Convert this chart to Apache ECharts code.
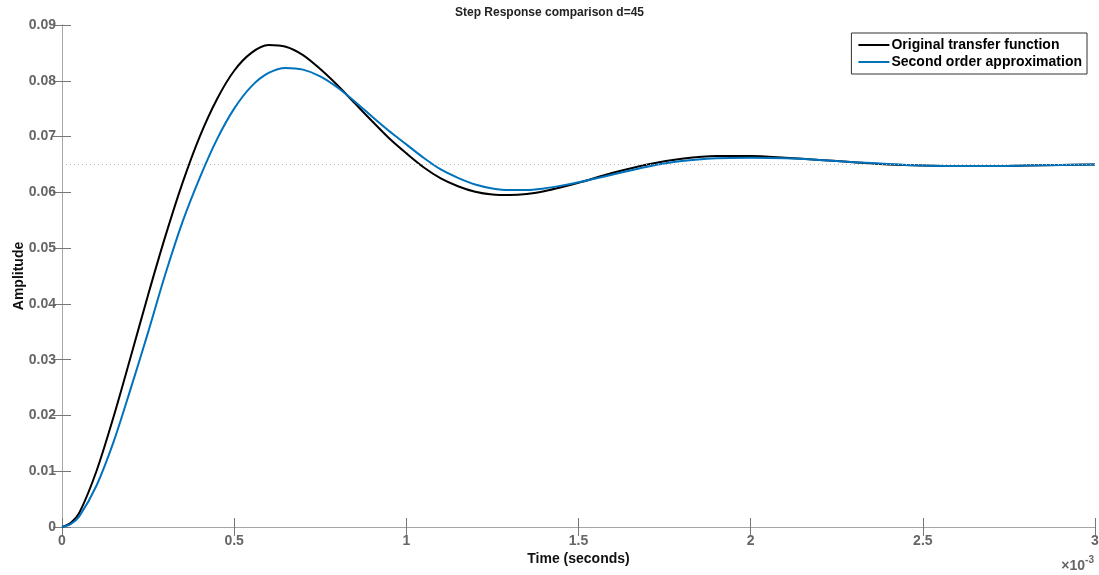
<!DOCTYPE html>
<html>
<head>
<meta charset="utf-8">
<script src="https://cdn.jsdelivr.net/npm/echarts@6/dist/echarts.min.js"></script>
<style>
  html, body { margin: 0; padding: 0; background: #fff; }
  #chart { width: 1099px; height: 575px; }
</style>
</head>
<body>
<div id="chart"></div>
<script>
  // time in ms (axis shows x10^-3 seconds)
  var time = [0, 0.025, 0.05, 0.1, 0.15, 0.2, 0.25, 0.3, 0.35, 0.4, 0.45, 0.5, 0.55, 0.6, 0.65, 0.7, 0.75,
    0.8, 0.85, 0.9, 0.95, 1.0, 1.05, 1.1, 1.15, 1.2, 1.25, 1.3, 1.35, 1.4, 1.45, 1.5,
    1.6, 1.7, 1.8, 1.9, 2.0, 2.1, 2.2, 2.3, 2.4, 2.5, 2.6, 2.7, 2.8, 2.9, 3.0]
  var original = [0, 0.0007, 0.0025, 0.0100, 0.0198, 0.0306, 0.0416, 0.0521, 0.0617, 0.0700, 0.0767, 0.0818, 0.0850, 0.0864, 0.0861, 0.0846, 0.0821,
    0.0792, 0.0760, 0.0728, 0.0697, 0.0670, 0.0645, 0.0625, 0.0611, 0.0601, 0.0596, 0.0595, 0.0597, 0.0602, 0.0609, 0.0617,
    0.0635, 0.0650, 0.0660, 0.0665, 0.0665, 0.0662, 0.0658, 0.0654, 0.0650, 0.0648, 0.0647, 0.0647, 0.0648, 0.0649, 0.0650]
  var approx = [0, 0.0005, 0.0019, 0.0074, 0.0153, 0.0249, 0.0349, 0.0453, 0.0547, 0.0626, 0.0695, 0.0750, 0.0790, 0.0814, 0.0823, 0.0820, 0.0808,
    0.0788, 0.0763, 0.0736, 0.0710, 0.0686, 0.0662, 0.0641, 0.0626, 0.0614, 0.0607, 0.0604, 0.0604, 0.0607, 0.0612, 0.0618,
    0.0632, 0.0646, 0.0656, 0.0661, 0.0662, 0.0661, 0.0658, 0.0654, 0.0651, 0.0648, 0.0647, 0.0647, 0.0648, 0.0649, 0.0650]
  var steadyState = 0.065

  function pairs(vals) {
    return time.map(function (t, i) { return [t, vals[i]] })
  }

  var gridColor = '#a6a6a6'
  var labelColor = '#666'
  var font = 'Liberation Sans, Arial, sans-serif'

  var myChart = echarts.init(document.getElementById('chart'))
  var option = {
    animation: false,
    title: {
      text: 'Step Response comparison d=45',
      left: 'center',
      top: 2,
      textStyle: { color: '#222', fontSize: 12, fontWeight: 'bold', fontFamily: font }
    },
    legend: {
      orient: 'vertical',
      right: 12,
      top: 33,
      padding: [5, 5, 5, 7],
      itemGap: 3,
      itemWidth: 31,
      itemHeight: 2,
      icon: 'rect',
      borderColor: '#333',
      borderWidth: 1,
      backgroundColor: '#fff',
      textStyle: { color: '#000', fontSize: 14, fontWeight: 'bold', fontFamily: font, padding: [0, 0, 0, -3] },
      data: ['Original transfer function', 'Second order approximation']
    },
    grid: { left: 62, right: 4, top: 25, bottom: 48, outerBoundsMode: 'none' },
    xAxis: [{
      type: 'value',
      min: 0, max: 3, interval: 0.5,
      name: 'Time (seconds)',
      nameLocation: 'middle',
      nameGap: 25,
      nameMoveOverlap: false,
      nameTextStyle: { color: '#111', fontSize: 14, fontWeight: 'bold', fontFamily: font },
      axisLine: { lineStyle: { color: gridColor, width: 1 } },
      axisTick: { inside: true, length: 9, lineStyle: { color: '#777' } },
      axisLabel: { color: labelColor, fontSize: 14, fontWeight: 'bold', fontFamily: font, margin: 7 },
      splitLine: { show: false }
    }, {
      type: 'value', position: 'top',
      min: 0, max: 3, interval: 0.5,
      axisLine: { lineStyle: { color: gridColor, width: 1 } },
      axisTick: { inside: true, length: 9, lineStyle: { color: '#777' } },
      axisLabel: { show: false },
      splitLine: { show: false }
    }],
    yAxis: [{
      type: 'value',
      min: 0, max: 0.09, interval: 0.01,
      name: 'Amplitude',
      nameLocation: 'middle',
      nameGap: 36,
      nameMoveOverlap: false,
      nameTextStyle: { color: '#111', fontSize: 14, fontWeight: 'bold', fontFamily: font },
      axisLine: { show: true, lineStyle: { color: gridColor, width: 1 } },
      axisTick: { show: true, inside: true, length: 9, lineStyle: { color: '#777' } },
      axisLabel: { color: labelColor, fontSize: 14, fontWeight: 'bold', fontFamily: font, margin: 6 },
      splitLine: { show: false }
    }, {
      type: 'value', position: 'right',
      min: 0, max: 0.09, interval: 0.01,
      axisLine: { show: true, lineStyle: { color: gridColor, width: 1 } },
      axisTick: { show: true, inside: true, length: 9, lineStyle: { color: '#777' } },
      axisLabel: { show: false },
      splitLine: { show: false }
    }],
    graphic: [{
      type: 'text',
      right: 5,
      top: 555,
      style: {
        text: '{a|×10}{b|-3}',
        rich: {
          a: { fill: labelColor, fontSize: 14, fontWeight: 'bold', fontFamily: font, verticalAlign: 'bottom' },
          b: { fill: labelColor, fontSize: 10, fontWeight: 'bold', fontFamily: font, verticalAlign: 'top', padding: [0, 0, 8, 0] }
        }
      }
    }],
    series: [
      {
        name: 'Original transfer function',
        type: 'line',
        smooth: 0.3,
        showSymbol: false,
        color: '#000',
        lineStyle: { width: 2, color: '#000' },
        data: pairs(original),
        markLine: {
          silent: true,
          symbol: 'none',
          precision: 4,
          label: { show: false },
          lineStyle: { color: '#b5b5b5', type: [1, 3], width: 1 },
          data: [{ yAxis: steadyState }]
        }
      },
      {
        name: 'Second order approximation',
        type: 'line',
        smooth: 0.3,
        showSymbol: false,
        color: '#0072BD',
        lineStyle: { width: 2, color: '#0072BD' },
        data: pairs(approx)
      }
    ]
  }
  myChart.setOption(option)
</script>
</body>
</html>
